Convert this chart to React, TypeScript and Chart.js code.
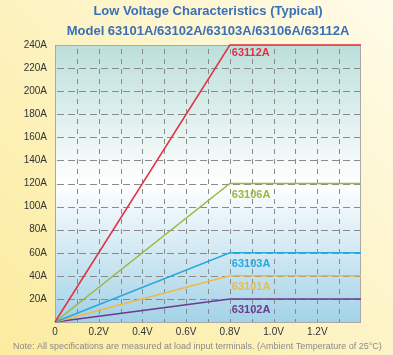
import React, { useEffect, useRef } from "react";
import { Chart, registerables } from "chart.js";

Chart.register(...registerables);

const titleLines = [
  "Low Voltage Characteristics (Typical)",
  "Model 63101A/63102A/63103A/63106A/63112A",
];
const footnote =
  "Note: All specifications are measured at load input terminals. (Ambient Temperature of 25°C)";

const voltages = [0, 0.8, 1.4];
const models = ["63112A", "63106A", "63103A", "63101A", "63102A"];
const current63112A = [0, 240, 240];
const current63106A = [0, 120, 120];
const current63103A = [0, 60, 60];
const current63101A = [0, 40, 40];
const current63102A = [0, 20, 20];
const seriesValues = [current63112A, current63106A, current63103A, current63101A, current63102A];
const colors = ["#e3303f", "#9bb83c", "#27a8e0", "#f3b840", "#6b3a8f"];

const xGridValues = [0.1, 0.2, 0.3, 0.4, 0.5, 0.6, 0.7, 0.8, 0.9, 1.0, 1.1, 1.2, 1.3];
const yGridValues = [20, 40, 60, 80, 100, 120, 140, 160, 180, 200, 220];
const xTickLabels: Record<string, string> = {
  "0": "0",
  "0.2": "0.2V",
  "0.4": "0.4V",
  "0.6": "0.6V",
  "0.8": "0.8V",
  "1": "1.0V",
  "1.2": "1.2V",
};

export default function App() {
  const ref = useRef<HTMLCanvasElement | null>(null);
  useEffect(() => {
    document.body.style.margin = "0";
    const canvas = ref.current!;
    const bgPlugin = {
      id: "bgPlugin",
      beforeDraw(chart: any) {
        const { ctx, chartArea, width, height } = chart;
        ctx.save();
        const g = ctx.createLinearGradient(width, 0, 0, height);
        g.addColorStop(0, "#fffbe8");
        g.addColorStop(0.5, "#fdf3c3");
        g.addColorStop(1, "#fbec9f");
        ctx.fillStyle = g;
        ctx.fillRect(0, 0, width, height);
        const a = chartArea;
        const g2 = ctx.createLinearGradient(0, a.top, 0, a.bottom);
        g2.addColorStop(0, "#bcdfdb");
        g2.addColorStop(0.5, "#ffffff");
        g2.addColorStop(1, "#a3d2e7");
        ctx.fillStyle = g2;
        ctx.fillRect(a.left, a.top, a.right - a.left, a.bottom - a.top);
        ctx.restore();
      },
      beforeDatasetsDraw(chart: any) {
        const { ctx, chartArea } = chart;
        const xs = chart.scales.x;
        const ys = chart.scales.y;
        ctx.save();
        ctx.strokeStyle = "#8a8a8a";
        ctx.lineWidth = 1;
        ctx.setLineDash([5, 5]);
        xGridValues.forEach((v) => {
          const px = Math.round(xs.getPixelForValue(v)) + 0.5;
          ctx.beginPath();
          ctx.moveTo(px, chartArea.top + 4);
          ctx.lineTo(px, chartArea.bottom);
          ctx.stroke();
        });
        ctx.setLineDash([7, 4]);
        yGridValues.forEach((v) => {
          const py = Math.round(ys.getPixelForValue(v)) + 0.5;
          ctx.beginPath();
          ctx.moveTo(chartArea.left + 2, py);
          ctx.lineTo(chartArea.right, py);
          ctx.stroke();
        });
        ctx.setLineDash([]);
        ctx.strokeStyle = "#a9a9a9";
        ctx.strokeRect(chartArea.left + 0.5, chartArea.top + 0.5, chartArea.right - chartArea.left - 1, chartArea.bottom - chartArea.top);
        ctx.restore();
      },
      afterDraw(chart: any) {
        const { ctx, chartArea, width } = chart;
        const xs = chart.scales.x;
        const ys = chart.scales.y;
        ctx.save();
        ctx.fillStyle = "#3b6fb6";
        ctx.font = "bold 13px 'Liberation Sans', Arial, sans-serif";
        ctx.textAlign = "center";
        ctx.textBaseline = "middle";
        const cx = (chartArea.left + chartArea.right) / 2;
        ctx.fillText(titleLines[0], cx, 11);
        ctx.fillText(titleLines[1], cx, 31);
        ctx.font = "bold 11px 'Liberation Sans', Arial, sans-serif";
        ctx.textAlign = "left";
        models.forEach((m, i) => {
          ctx.fillStyle = colors[i];
          const vals = seriesValues[i];
          const px = xs.getPixelForValue(voltages[1]) + 2;
          const py = ys.getPixelForValue(vals[1]) + (i === 0 ? 8 : 11);
          ctx.fillText(m, px, py);
        });
        ctx.fillStyle = "#8a8a8a";
        ctx.font = "9px 'Liberation Sans', Arial, sans-serif";
        ctx.textAlign = "left";
        ctx.fillText(footnote, 13, 347, width - 20);
        ctx.restore();
      },
    };
    const chart = new Chart(canvas, {
      type: "line",
      data: {
        datasets: models.map((m, i) => ({
          label: m,
          data: voltages.map((v, j) => ({ x: v, y: seriesValues[i][j] })),
          borderColor: colors[i],
          backgroundColor: colors[i],
          borderWidth: 1.5,
          pointRadius: 0,
          tension: 0,
          clip: 2,
        })),
      },
      options: {
        responsive: false,
        animation: false,
        layout: { padding: { top: 45, right: 32, left: 0, bottom: 0 } },
        plugins: { legend: { display: false }, tooltip: { enabled: false }, title: { display: false } },
        scales: {
          x: {
            type: "linear",
            min: 0,
            max: 1.4,
            afterFit: (s: any) => { s.height = 33; },
            afterBuildTicks: (s: any) => {
              const t = [];
              for (let k = 0; k <= 14; k += 2) t.push({ value: k / 10 });
              s.ticks = t;
            },
            border: { display: false },
            grid: { display: false, drawTicks: false },
            ticks: {
              autoSkip: false,
              maxRotation: 0,
              padding: 4,
              color: "#333",
              font: { size: 10, family: "'Liberation Sans', Arial, sans-serif" },
              callback: (v: any) => {
                const key = String(Math.round(Number(v) * 10) / 10);
                return xTickLabels[key] ?? "";
              },
            },
          },
          y: {
            min: 0,
            max: 240,
            afterFit: (s: any) => { s.width = 55; },
            border: { display: false },
            grid: { display: false, drawTicks: false },
            ticks: {
              stepSize: 20,
              padding: 8,
              color: "#333",
              font: { size: 10, family: "'Liberation Sans', Arial, sans-serif" },
              callback: (v: any) => (Number(v) === 0 ? "" : `${v}A`),
            },
          },
        },
      },
      plugins: [bgPlugin],
    } as any);
    return () => chart.destroy();
  }, []);
  return <canvas ref={ref} width={393} height={355} style={{ display: "block" }} />;
}
